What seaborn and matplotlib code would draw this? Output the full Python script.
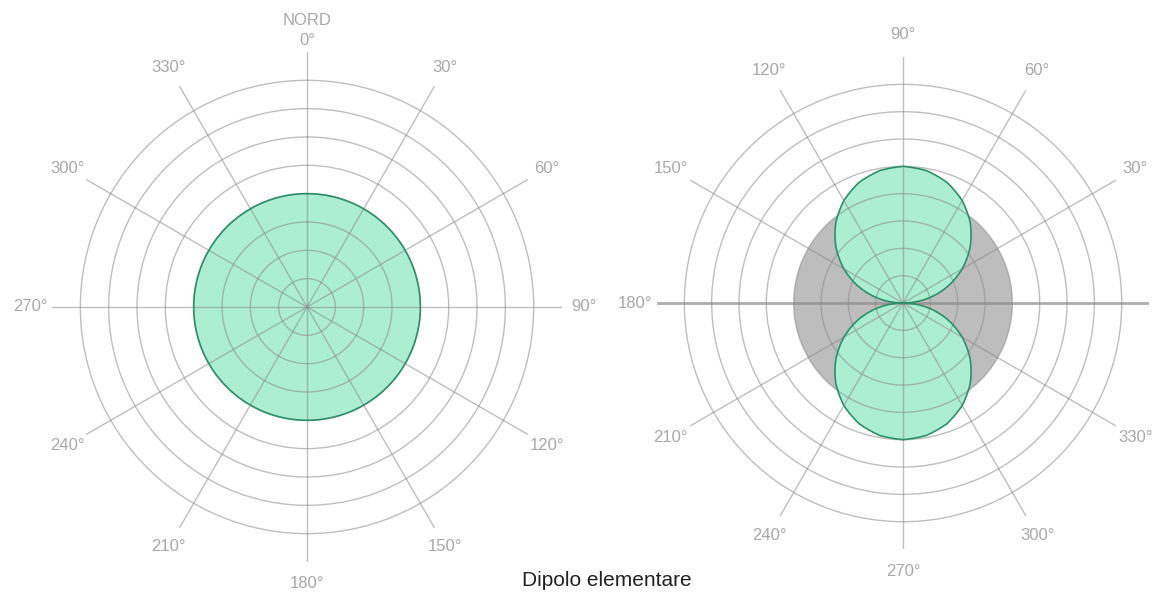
import numpy as np
import pandas as pd
import matplotlib
matplotlib.use("Agg")
import matplotlib.pyplot as plt
import seaborn as sns

# ---- data -------------------------------------------------------------
# sampling angles of the radiation patterns (degrees)
angles_deg = [0, 10, 20, 30, 40, 50, 60, 70, 80, 90, 100, 110, 120,
              130, 140, 150, 160, 170, 180, 190, 200, 210, 220, 230, 240,
              250, 260, 270, 280, 290, 300, 310, 320, 330, 340, 350, 360]

# isotropic radiator: same gain in every direction
isotropic_gain = [4, 4, 4, 4, 4, 4, 4, 4, 4, 4, 4, 4, 4, 4, 4, 4, 4, 4, 4,
                  4, 4, 4, 4, 4, 4, 4, 4, 4, 4, 4, 4, 4, 4, 4, 4, 4, 4]

# elementary dipole: two lobes, null along the dipole axis
dipole_gain = [0.00, 0.87, 1.71, 2.50, 3.21, 3.83, 4.33, 4.70, 4.92, 5.00,
               4.92, 4.70, 4.33, 3.83, 3.21, 2.50, 1.71, 0.87, 0.00,
               0.87, 1.71, 2.50, 3.21, 3.83, 4.33, 4.70, 4.92, 5.00,
               4.92, 4.70, 4.33, 3.83, 3.21, 2.50, 1.71, 0.87, 0.00]

ring_values = [1, 2, 3, 4, 5, 6, 7, 8]
spoke_deg = [0, 30, 60, 90, 120, 150, 180, 210, 240, 270, 300, 330]
left_labels = ["NORD\n0°", "30°", "60°", "90°", "120°", "150°", "180°",
               "210°", "240°", "270°", "300°", "330°"]
right_labels = ["", "30°", "60°", "90°", "120°", "150°", "180°",
                "210°", "240°", "270°", "300°", "330°"]
title_text = "Dipolo elementare"

# ---- style ------------------------------------------------------------
sns.set_theme(style="white")
plt.rcParams["font.family"] = ["Liberation Sans", "DejaVu Sans"]

GREEN_FILL = "#abeed2"
GREEN_EDGE = "#2f8f68"
GREY_FILL = "#bdbdbd"
GRID = "#8a8a8a"
LABEL = "#a8a8a8"
SMOOTH = 30  # sub-steps per segment so curves follow the polar grid


def frame(gain):
    out = pd.DataFrame({"deg": angles_deg, "gain": gain})
    out["theta"] = np.deg2rad(out["deg"])
    return out


def setup_polar(ax, labels, pad):
    ax.set_ylim(0, 9)
    ax.set_yticks(ring_values)
    ax.set_yticklabels([])
    ax.set_thetagrids(spoke_deg, labels)
    ax.tick_params(axis="x", pad=pad, labelsize=12, labelcolor=LABEL, length=0)
    for lab in ax.get_xticklabels():
        lab.set_linespacing(1.4)
    ax.spines["polar"].set_visible(False)
    ax.set_axisbelow(False)
    ax.grid(True, color=GRID, alpha=0.55, linewidth=1.0)
    ax.set_facecolor("none")


def draw_pattern(ax, df, fill, edge=None):
    for poly in ax.fill(df["theta"], df["gain"], color=fill, lw=0, zorder=1):
        poly.get_path()._interpolation_steps = SMOOTH
    if edge is not None:
        n_before = len(ax.lines)
        sns.lineplot(data=df, x="theta", y="gain", ax=ax, sort=False,
                     estimator=None, color=edge, linewidth=1.2, zorder=3,
                     legend=False)
        for line in ax.lines[n_before:]:
            line.get_path()._interpolation_steps = SMOOTH
    ax.set_xlabel("")
    ax.set_ylabel("")


fig = plt.figure(figsize=(11.61, 5.92), dpi=100)

# left: isotropic pattern, compass orientation
ax1 = fig.add_axes([0.0448, 0.0507, 0.4393, 0.8615], projection="polar")
ax1.set_theta_zero_location("N")
ax1.set_theta_direction(-1)
draw_pattern(ax1, frame(isotropic_gain), GREEN_FILL, GREEN_EDGE)
setup_polar(ax1, left_labels, 8.5)

# right: dipole lobes over the isotropic reference
ax2 = fig.add_axes([0.5659, 0.0726, 0.4238, 0.8311], projection="polar")
ax2.set_theta_zero_location("E")
ax2.set_theta_direction(1)
draw_pattern(ax2, frame(isotropic_gain), GREY_FILL)
draw_pattern(ax2, frame(dipole_gain), GREEN_FILL, GREEN_EDGE)
setup_polar(ax2, right_labels, 9)

# emphasise the dipole axis (0°-180°)
for i, gl in enumerate(ax2.xaxis.get_gridlines()):
    if spoke_deg[i] in (0, 180):
        gl.set_linewidth(2.0)
        gl.set_alpha(0.7)

fig.text(0.523, 0.02, title_text, ha="center", va="center",
         fontsize=15, color="#222222")

fig.savefig("out.png", dpi=100)
